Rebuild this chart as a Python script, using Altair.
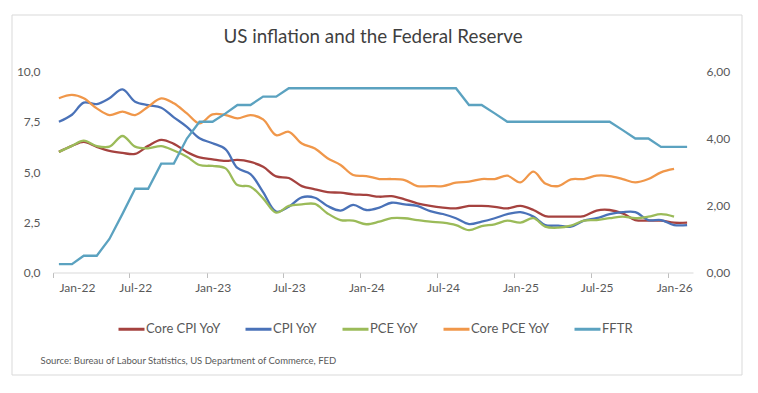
import altair as alt
import pandas as pd

# ---- data ----
n_months = 50
months = [f"{2022 + i // 12}-{i % 12 + 1:02d}-15" for i in range(n_months)]

series_names = ["Core CPI YoY", "CPI YoY", "PCE YoY", "Core PCE YoY", "FFTR"]
series_colors = ["#A5423F", "#4A72B8", "#9BBB59", "#F0974A", "#5BA2C0"]

# left axis (%)
core_cpi = [6.0, 6.3, 6.5, 6.25, 6.05, 5.95, 5.9, 6.3, 6.6, 6.4,
            6.0, 5.73, 5.63, 5.55, 5.6, 5.5, 5.26, 4.78, 4.7, 4.3,
            4.14, 4.0, 3.97, 3.89, 3.86, 3.77, 3.8, 3.64, 3.44, 3.31,
            3.23, 3.19, 3.31, 3.31, 3.27, 3.19, 3.31, 3.11, 2.81, 2.78,
            2.78, 2.81, 3.08, 3.11, 2.94, 2.61, 2.58, 2.58, 2.48, 2.48]
cpi = [7.5, 7.85, 8.45, 8.38, 8.67, 9.11, 8.5, 8.33, 8.2, 7.72,
       7.25, 6.68, 6.43, 6.13, 5.2, 4.9, 4.0, 3.03, 3.27, 3.74,
       3.72, 3.31, 3.08, 3.36, 3.11, 3.23, 3.47, 3.39, 3.31, 3.05,
       2.91, 2.7, 2.41, 2.53, 2.7, 2.9, 3.0, 2.78, 2.36, 2.33,
       2.28, 2.58, 2.7, 2.9, 3.0, 3.0, 2.61, 2.61, 2.36, 2.36]
pce = [6.0, 6.3, 6.56, 6.29, 6.26, 6.79, 6.26, 6.18, 6.29, 6.07,
       5.76, 5.35, 5.3, 5.18, 4.35, 4.27, 3.69, 2.98, 3.31, 3.39,
       3.41, 2.94, 2.61, 2.58, 2.4, 2.53, 2.7, 2.7, 2.61, 2.53,
       2.48, 2.36, 2.11, 2.31, 2.4, 2.58, 2.48, 2.7, 2.28, 2.23,
       2.33, 2.58, 2.61, 2.7, 2.78, 2.7, 2.78, 2.9, 2.78]
# right axis (%)
core_pce = [5.2, 5.3, 5.2, 4.9, 4.7, 4.8, 4.7, 4.95, 5.2, 5.05,
            4.75, 4.45, 4.72, 4.7, 4.6, 4.7, 4.57, 4.1, 4.2, 3.85,
            3.7, 3.41, 3.21, 2.91, 2.88, 2.79, 2.79, 2.76, 2.58, 2.58,
            2.58, 2.68, 2.71, 2.79, 2.79, 2.89, 2.69, 3.01, 2.66, 2.58,
            2.78, 2.79, 2.89, 2.88, 2.79, 2.69, 2.79, 2.99, 3.09]
fftr = [0.25, 0.25, 0.5, 0.5, 1.0, 1.75, 2.5, 2.5, 3.25, 3.25,
        4.0, 4.5, 4.5, 4.75, 5.0, 5.0, 5.25, 5.25, 5.5, 5.5,
        5.5, 5.5, 5.5, 5.5, 5.5, 5.5, 5.5, 5.5, 5.5, 5.5,
        5.5, 5.5, 5.0, 5.0, 4.75, 4.5, 4.5, 4.5, 4.5, 4.5,
        4.5, 4.5, 4.5, 4.5, 4.25, 4.0, 4.0, 3.75, 3.75, 3.75]

left_ticks = [0, 2.5, 5, 7.5, 10]
right_ticks = [0, 2, 4, 6]
x_tick_dates = [(2022, 1), (2022, 7), (2023, 1), (2023, 7), (2024, 1),
                (2024, 7), (2025, 1), (2025, 7), (2026, 1)]

title_text = "US inflation and the Federal Reserve"
source_text = "Source: Bureau of Labour Statistics, US Department of Commerce, FED"


def long_df(name, values):
    return pd.DataFrame({"date": months[:len(values)], "series": name, "value": values})


left_df = pd.concat([long_df("Core CPI YoY", core_cpi), long_df("CPI YoY", cpi),
                     long_df("PCE YoY", pce)], ignore_index=True)
cpce_df = long_df("Core PCE YoY", core_pce)
fftr_df = long_df("FFTR", fftr)

FONT = "Lato"
GREY = "#595959"

x_enc = alt.X(
    "date:T",
    scale=alt.Scale(type="utc", nice=False,
                    domain=[alt.DateTime(year=2022, month=1, date=1, utc=True),
                            alt.DateTime(year=2026, month=3, date=1, utc=True)]),
    axis=alt.Axis(
        values=[alt.DateTime(year=y, month=m, date=1, utc=True) for y, m in x_tick_dates],
        labelExpr="utcFormat(datum.value, '%b-%y')", labelOffset=6, labelFont=FONT,
        labelFontSize=12, labelColor=GREY, ticks=True, tickSize=5, tickColor="#BFBFBF",
        domainColor="#D9D9D9", labelPadding=5, grid=False,
        titleFont=FONT, titleFontSize=9.5, titleFontWeight="normal", titleColor=GREY,
        titleAnchor="start", titleAlign="left", titleBaseline="middle",
        titleX=-13, titleY=87.5),
    title=source_text,
)

color_enc = alt.Color(
    "series:N",
    scale=alt.Scale(domain=series_names, range=series_colors),
    legend=alt.Legend(title=None, orient="none", direction="horizontal", columns=5,
                      legendX=64, legendY=243, symbolType="stroke", symbolSize=676,
                      symbolStrokeWidth=3, labelFont=FONT, labelFontSize=13,
                      labelColor=GREY, columnPadding=18, labelOffset=0),
)

y_left = alt.Y(
    "value:Q", scale=alt.Scale(domain=[0, 10], nice=False),
    axis=alt.Axis(values=left_ticks, labelExpr="replace(format(datum.value, '.1f'), '.', ',')",
                  domain=False, ticks=False, grid=False, labelPadding=13,
                  labelFont=FONT, labelFontSize=12, labelColor=GREY),
    title=None,
)
right_axis = alt.Axis(values=right_ticks, orient="right",
                      labelExpr="replace(format(datum.value, '.2f'), '.', ',')",
                      domain=False, ticks=False, grid=False, labelPadding=13,
                      labelFont=FONT, labelFontSize=12, labelColor=GREY)
y_right = alt.Y("value:Q", scale=alt.Scale(domain=[0, 6], nice=False), axis=right_axis, title=None)

# light outer border of the chart card
frame = alt.Chart(pd.DataFrame({"k": [0]})).mark_rect(
    fillOpacity=0, stroke="#D9D9D9", strokeWidth=1).encode(
    x=alt.value(-41), x2=alt.value(689), y=alt.value(-56.5), y2=alt.value(303.5))

left = alt.Chart(left_df).mark_line(interpolate="catmull-rom", strokeWidth=2.3).encode(
    x=x_enc, y=y_left, color=color_enc)
cpce_line = alt.Chart(cpce_df).mark_line(interpolate="catmull-rom", strokeWidth=2.3).encode(
    x=x_enc, y=y_right, color=color_enc)
fftr_line = alt.Chart(fftr_df).mark_line(strokeWidth=2.3).encode(
    x=x_enc, y=y_right, color=color_enc)
right = alt.layer(cpce_line, fftr_line)

chart = alt.layer(frame, left, right).resolve_scale(y="independent").properties(
    width=640, height=201,
    title=alt.TitleParams(title_text, font=FONT, fontSize=18.8, fontWeight="normal",
                          color="#3F3F3F", anchor="middle", frame="group", offset=-32),
    autosize=alt.AutoSizeParams(type="none"),
    padding={"left": 45, "top": 63.5, "right": 54, "bottom": 112},
).configure_view(stroke=None)

chart.save("out.html", embed_options={"renderer": "svg", "actions": False})
